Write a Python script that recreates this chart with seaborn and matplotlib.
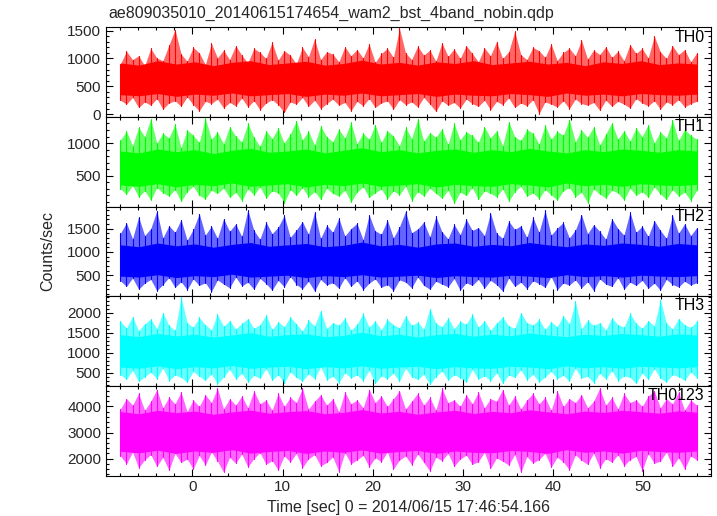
import numpy as np
import pandas as pd
import matplotlib
matplotlib.use("Agg")
import matplotlib.pyplot as plt
from matplotlib.ticker import MultipleLocator
import seaborn as sns

title = "ae809035010_20140615174654_wam2_bst_4band_nobin.qdp"
bands = ["TH0", "TH1", "TH2", "TH3", "TH0123"]
colors = ["#ff0000", "#00ff00", "#0000ff", "#00ffff", "#ff00ff"]
t_start, t_end = -8.0, 56.0

# spike extremes (every ~0.67 s)
th0_hi = [900,1130,980,1050,870,1180,1010,960,1240,1520,1080,950,1200,1100,890,1270,1010,1150,980,1230,
          1060,920,1180,1110,1000,1290,970,1140,1060,900,1200,1030,1350,980,1120,1080,940,1210,1050,1160,
          1010,1260,930,1090,1180,1020,1540,1100,980,1220,1060,1150,950,1280,1040,1170,1000,1230,1090,940,
          1190,1050,1300,1000,1120,1490,1070,980,1200,1140,1020,1260,960,1110,1180,1050,1330,990,1150,1070,
          1210,1020,1130,960,1250,1090,1180,1010,1400,1120,1000,1230,1070,1160,940,1100]
th0_lo = [250,180,300,120,220,160,280,90,200,240,140,310,170,60,230,190,270,110,210,150,
          290,130,240,80,200,260,170,30,220,180,300,140,250,100,190,270,160,210,60,230,
          150,280,120,200,240,90,260,170,220,130,300,180,50,240,160,210,110,270,190,140,
          250,80,230,170,290,120,200,150,260,10,220,180,130,240,100,270,190,160,210,70,
          250,140,230,180,110,280,200,150,240,90,220,170,260,130,190,230]

th1_hi = [1050,1180,960,1240,1100,1370,1000,1150,1080,1290,930,1200,1120,1010,1380,1060,1170,990,1250,1110,
          1020,1300,1090,950,1190,1070,1230,1000,1140,1340,1050,1180,970,1260,1100,1020,1210,1080,1320,990,
          1150,1060,1280,1010,1190,1110,960,1240,1070,1370,1030,1160,1090,1220,980,1300,1050,1170,1120,1010,
          1250,1080,1190,960,1330,1100,1040,1210,1150,990,1270,1060,1180,1120,1360,1020,1200,1090,1250,970,
          1140,1310,1060,1190,1030,1230,1100,1280,1000,1170,1080,1350,1040,1210,1120,1060]
th1_lo = [300,220,350,180,270,130,320,240,190,290,110,260,340,200,150,280,230,310,170,250,
          120,300,210,330,160,270,240,90,290,200,320,180,260,140,310,230,190,280,100,250,
          330,170,240,300,150,270,210,340,120,260,190,310,230,160,280,80,250,200,320,140,
          270,230,180,300,110,260,340,190,240,150,290,210,130,270,320,180,250,90,300,220,
          160,280,240,130,310,200,260,170,330,220,140,290,190,250,120,280]

th2_hi = [1400,1620,1280,1750,1350,1500,1880,1300,1560,1420,1690,1250,1480,1820,1360,1550,1290,1710,1440,1600,
          1330,1900,1460,1270,1640,1390,1530,1780,1310,1470,1650,1380,1850,1290,1570,1420,1720,1340,1500,1610,
          1260,1790,1450,1380,1680,1300,1540,1870,1410,1490,1640,1320,1760,1430,1280,1590,1370,1700,1460,1520,
          1350,1830,1400,1290,1660,1480,1560,1310,1740,1420,1890,1360,1510,1630,1300,1470,1800,1390,1580,1440,
          1270,1710,1500,1360,1850,1420,1550,1330,1670,1460,1290,1780,1400,1600,1350,1520]
th2_lo = [380,260,440,200,330,410,170,300,450,240,360,190,420,280,340,150,400,310,230,460,
          270,350,200,430,320,180,390,250,470,300,210,370,160,410,290,340,220,450,260,380,
          190,330,420,240,300,170,400,350,230,460,280,200,370,310,250,430,180,340,280,410,
          220,390,300,160,440,260,350,210,380,320,240,470,190,330,290,400,230,360,170,420,
          310,260,450,200,350,280,390,220,330,180,410,300,250,370,290,340]

th3_hi = [1780,1620,1900,1550,1720,1840,1600,2000,1680,1560,2380,1750,1630,1880,1700,1570,1960,1660,1800,1590,
          1730,1850,1610,1700,1940,1580,1770,1650,1890,1720,1540,1810,1670,2050,1600,1750,1690,1860,1560,1710,
          1980,1640,1790,1570,1830,1700,1620,1920,1680,1760,1590,2100,1730,1650,1870,1600,1780,1710,1960,1640,
          1800,1560,1740,1890,1670,1610,2000,1750,1690,1830,1580,1770,1650,1920,1720,2280,1600,1810,1680,1750,
          1560,1870,1700,1640,1980,1730,1610,1800,1670,2320,1740,1590,1850,1700,1630,1780]
th3_lo = [450,330,560,280,400,510,350,620,300,440,380,260,530,410,310,470,220,390,580,340,
          480,270,430,360,600,310,450,240,520,380,290,470,350,640,320,410,250,500,370,440,
          300,560,230,420,350,490,280,610,390,330,460,210,400,540,310,450,370,260,580,340,
          420,300,500,240,440,380,570,320,460,270,390,530,350,430,290,610,360,410,250,480,
          340,550,300,420,380,230,490,330,600,360,270,450,400,310,520,370]

th0123_hi = [3900,4300,4050,4500,3850,4200,4650,3950,4350,4100,4550,3800,4250,4000,4450,4150,4700,3900,4300,4050,
             4400,3950,4600,4100,4250,3850,4500,4000,4350,4150,4700,3900,4200,4450,4050,4300,3800,4550,4100,4250,
             3950,4650,4150,4400,4000,4300,4600,3900,4200,4500,4050,4350,3850,4700,4150,4250,4000,4450,4100,4550,
             3950,4300,4200,4650,4050,4400,3900,4250,4500,4100,4350,3850,4600,4000,4300,4150,4450,3950,4200,4700,
             4050,4350,3900,4500,4150,4250,4000,4400,4600,3950,4300,4100,4550,3850,4250,4050]
th0123_lo = [2100,1800,2250,1650,1950,2150,1700,2050,1550,2200,1850,1980,1600,2120,1750,2250,1900,1480,2050,1820,
             2180,1680,2000,2230,1780,1920,1560,2100,1870,2200,1650,1990,2150,1720,1850,2060,1500,2220,1800,1950,
             2120,1690,2030,1880,2260,1600,1940,2100,1760,2180,1850,1520,2050,1920,2200,1700,1980,2130,1780,1880,
             2240,1620,2020,1900,1750,2160,1480,2080,1830,1960,2200,1680,2050,1870,1570,2140,1930,1780,2210,1650,
             2000,1860,2150,1720,1960,2080,1540,2190,1820,1900,2250,1700,2030,1600,2100,1950]

# dense core of the light curve (every 2 s)
th0_core_hi = [920,880,960,900,940,870,930,960,890,920,950,880,910,970,900,930,
               880,940,910,960,890,920,950,900,930,870,940,910,960,890,920,900]
th0_core_lo = [350,330,370,320,360,340,380,330,350,370,320,360,340,380,330,350,
               370,320,360,340,330,370,350,320,380,340,360,330,370,350,340,360]
th1_core_hi = [880,850,910,870,900,840,890,920,860,880,910,850,890,930,870,900,
               850,890,910,860,900,870,920,880,850,900,870,910,890,860,900,880]
th1_core_lo = [360,340,380,330,370,350,390,340,360,380,330,370,350,390,340,360,
               380,330,370,350,340,380,360,330,390,350,370,340,380,360,350,370]
th2_core_hi = [1150,1110,1190,1130,1170,1100,1160,1200,1120,1150,1180,1110,1140,1210,1130,1160,
               1100,1170,1190,1120,1160,1130,1200,1150,1110,1170,1140,1190,1160,1120,1180,1150]
th2_core_lo = [480,460,510,450,490,470,520,460,480,500,450,490,470,510,460,480,
               500,450,490,470,460,500,480,450,510,470,490,460,500,480,470,490]
th3_core_hi = [1450,1400,1480,1420,1460,1390,1440,1500,1410,1450,1470,1400,1430,1510,1420,1460,
               1390,1450,1480,1410,1460,1420,1490,1440,1400,1460,1430,1480,1450,1410,1470,1440]
th3_core_lo = [640,610,670,600,650,620,680,610,640,660,600,650,620,670,610,640,
               660,600,650,620,610,660,640,600,670,620,650,610,660,640,620,650]
th0123_core_hi = [3800,3720,3850,3760,3820,3700,3790,3860,3740,3800,3840,3720,3770,3880,3750,3810,
                  3700,3790,3850,3730,3810,3760,3870,3790,3720,3820,3770,3850,3800,3740,3830,3780]
th0123_core_lo = [2280,2220,2320,2200,2290,2240,2340,2210,2270,2310,2200,2290,2240,2330,2210,2270,
                  2310,2200,2290,2240,2220,2310,2270,2200,2340,2240,2290,2210,2310,2270,2240,2290]

highs = [th0_hi, th1_hi, th2_hi, th3_hi, th0123_hi]
lows = [th0_lo, th1_lo, th2_lo, th3_lo, th0123_lo]
core_highs = [th0_core_hi, th1_core_hi, th2_core_hi, th3_core_hi, th0123_core_hi]
core_lows = [th0_core_lo, th1_core_lo, th2_core_lo, th3_core_lo, th0123_core_lo]

ylims = [(-50, 1560), (30, 1400), (50, 1970), (170, 2410), (1350, 4790)]
ymajor = [500, 500, 500, 500, 1000]
yminor = [100, 100, 100, 100, 200]


def long_frame(hi, lo, band):
    t = np.linspace(t_start, t_end, len(hi))
    return pd.DataFrame({"time": np.repeat(t, 2),
                         "rate": np.column_stack([hi, lo]).ravel(), "band": band})


df = pd.concat([long_frame(h, l, b) for b, h, l in zip(bands, highs, lows)], ignore_index=True)
core = pd.concat([long_frame(h, l, b) for b, h, l in zip(bands, core_highs, core_lows)], ignore_index=True)

sns.set_theme(style="ticks")
plt.rcParams["font.family"] = ["Liberation Sans", "DejaVu Sans"]
plt.rcParams["axes.linewidth"] = 0.8

fig = plt.figure(figsize=(7.17, 5.16), dpi=100)
left, right, top, bottom = 106/717, 710.7/717, 1-27.3/516, 1-475.5/516
gs = fig.add_gridspec(5, 1, left=left, right=right, top=top, bottom=bottom, hspace=0)
axes = [fig.add_subplot(gs[i]) for i in range(5)]

for i, (ax, b, c) in enumerate(zip(axes, bands, colors)):
    sub = df[df["band"] == b]
    csub = core[core["band"] == b]
    # outer envelope of the spikes
    sns.lineplot(data=sub, x="time", y="rate", color=c, lw=0, estimator="mean",
                 errorbar=("pi", 100), err_kws={"alpha": 0.6, "linewidth": 0},
                 ax=ax, legend=False)
    # dense, saturated core
    sns.lineplot(data=csub, x="time", y="rate", color=c, lw=0, estimator="mean",
                 errorbar=("pi", 100), err_kws={"alpha": 1.0, "linewidth": 0},
                 ax=ax, legend=False)
    # individual spikes
    sns.lineplot(data=sub, x="time", y="rate", units="time", estimator=None,
                 color=c, lw=0.8, ax=ax, legend=False)
    ax.set_xlim(-9.6, 57.55)
    ax.set_ylim(*ylims[i])
    ax.xaxis.set_major_locator(MultipleLocator(10))
    ax.xaxis.set_minor_locator(MultipleLocator(2))
    ax.yaxis.set_major_locator(MultipleLocator(ymajor[i]))
    ax.yaxis.set_minor_locator(MultipleLocator(yminor[i]))
    ax.tick_params(which="both", direction="in", top=True, right=True, color="black",
                   labelsize=11, width=0.8)
    ax.tick_params(which="major", length=5)
    ax.tick_params(which="minor", length=2.5)
    ax.set_xlabel("")
    ax.set_ylabel("")
    for s in ax.spines.values():
        s.set_color("black")
        s.set_visible(True)
    ax.text(0.99, 0.975, b, transform=ax.transAxes, ha="right", va="top", fontsize=11.5, color="black")
    if i < 4:
        ax.tick_params(labelbottom=False)

axes[-1].set_xlabel("Time [sec] 0 = 2014/06/15 17:46:54.166", fontsize=11.5, labelpad=4)
fig.text(108/717, 1-13/516, title, ha="left", va="center", fontsize=11.5)
fig.text(48/717, 0.5 * (top + bottom), "Counts/sec", rotation=90, ha="center", va="center", fontsize=11.5)

fig.savefig("out.png", dpi=100)
